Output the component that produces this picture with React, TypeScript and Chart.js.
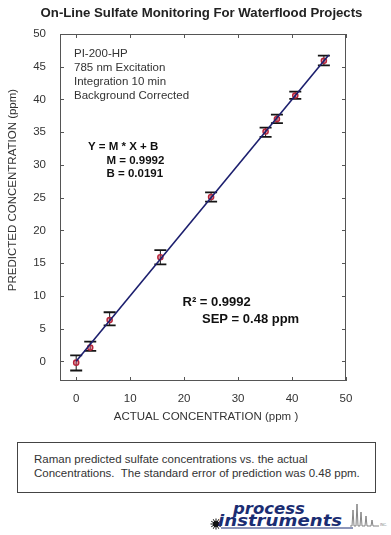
import React, { useEffect, useRef } from "react";
import { Chart, registerables } from "chart.js";

Chart.register(...registerables);

// ---- data ----
const actualConc = [0, 2.6, 6.2, 15.6, 25.0, 35.1, 37.2, 40.6, 45.9];
const predictedConc = [-0.2, 2.1, 6.3, 15.9, 25.1, 35.1, 37.0, 40.6, 45.9];
const errLow = [-1.4, 1.6, 5.5, 14.8, 24.4, 34.3, 36.4, 40.1, 45.2];
const errHigh = [0.9, 3.0, 7.5, 17.0, 25.8, 35.7, 37.7, 41.2, 46.7];
const fitX = [0, 46.8];
const fitY = [0.02, 46.78];
const xTickValues = [0, 10, 20, 30, 40, 50];
const yTickValues = [0, 5, 10, 15, 20, 25, 30, 35, 40, 45, 50];

const titleText = "On-Line Sulfate Monitoring For Waterflood Projects";
const xTitle = "ACTUAL CONCENTRATION (ppm )";
const yTitle = "PREDICTED CONCENTRATION (ppm)";
const infoLines = ["PI-200-HP", "785 nm Excitation", "Integration 10 min", "Background Corrected"];
const fitLines = ["Y = M * X + B", "M = 0.9992", "B = 0.0191"];
const statLines = ["R\u00B2 = 0.9992", "SEP = 0.48 ppm"];
const captionLines = [
  "Raman predicted sulfate concentrations vs. the actual",
  "Concentrations.  The standard error of prediction was 0.48 ppm.",
];

const FONT = "'Liberation Sans', Arial, sans-serif";

const overlayPlugin = {
  id: "overlay",
  beforeDatasetsDraw(chart: any) {
    const { ctx } = chart;
    const x = chart.scales.x;
    const y = chart.scales.y;
    ctx.save();
    ctx.strokeStyle = "#151515";
    for (let i = 0; i < actualConc.length; i++) {
      const px = x.getPixelForValue(actualConc[i]);
      const yl = y.getPixelForValue(errLow[i]);
      const yh = y.getPixelForValue(errHigh[i]);
      ctx.lineWidth = 1;
      ctx.beginPath();
      ctx.moveTo(px, yl);
      ctx.lineTo(px, yh);
      ctx.stroke();
      ctx.lineWidth = 1.8;
      ctx.beginPath();
      ctx.moveTo(px - 6, yl);
      ctx.lineTo(px + 6, yl);
      ctx.moveTo(px - 6, yh);
      ctx.lineTo(px + 6, yh);
      ctx.stroke();
    }
    ctx.restore();
  },
  afterDraw(chart: any) {
    const { ctx, chartArea } = chart;
    const { left, right, top, bottom } = chartArea;
    const x = chart.scales.x;
    const y = chart.scales.y;
    ctx.save();
    // frame
    ctx.strokeStyle = "#555";
    ctx.lineWidth = 1;
    ctx.strokeRect(left + 0.5, top + 0.5, right - left - 1, bottom - top - 1);
    // inner ticks
    ctx.beginPath();
    for (const v of xTickValues) {
      const px = Math.round(x.getPixelForValue(v)) + 0.5;
      ctx.moveTo(px, bottom);
      ctx.lineTo(px, bottom - 4);
      ctx.moveTo(px, top);
      ctx.lineTo(px, top + 4);
    }
    for (const v of yTickValues) {
      const py = Math.round(y.getPixelForValue(v)) + 0.5;
      ctx.moveTo(left, py);
      ctx.lineTo(left + 4, py);
      ctx.moveTo(right, py);
      ctx.lineTo(right - 4, py);
    }
    ctx.stroke();

    // title
    ctx.fillStyle = "#222";
    ctx.textAlign = "center";
    ctx.textBaseline = "middle";
    ctx.font = `bold 13.2px ${FONT}`;
    ctx.fillText(titleText, 201.5, 13);

    // axis titles
    ctx.fillStyle = "#333";
    ctx.font = `11.5px ${FONT}`;
    ctx.fillText(xTitle, 206, 417);
    ctx.save();
    ctx.translate(13, 190);
    ctx.rotate(-Math.PI / 2);
    ctx.fillText(yTitle, 0, 0);
    ctx.restore();

    // info text
    ctx.textAlign = "left";
    ctx.font = `11.5px ${FONT}`;
    infoLines.forEach((t, i) => ctx.fillText(t, 74, 54 + i * 14));

    // fit text
    ctx.fillStyle = "#111";
    ctx.font = `bold 11.5px ${FONT}`;
    ctx.fillText(fitLines[0], 88, 147);
    ctx.fillText(fitLines[1], 106.5, 160.5);
    ctx.fillText(fitLines[2], 106.5, 174);

    // stats text
    ctx.font = `bold 13px ${FONT}`;
    ctx.fillText(statLines[0], 182.5, 302);
    ctx.fillText(statLines[1], 202, 319);
    ctx.restore();
  },
};

function ChartCanvas() {
  const ref = useRef<HTMLCanvasElement | null>(null);
  useEffect(() => {
    if (!ref.current) return;
    const chart = new Chart(ref.current, {
      type: "scatter",
      data: {
        datasets: [
          {
            type: "line",
            label: "Fit",
            data: fitX.map((v, i) => ({ x: v, y: fitY[i] })),
            borderColor: "#1c1f6e",
            borderWidth: 1.6,
            pointRadius: 0,
            fill: false,
            order: 0,
          } as any,
          {
            label: "Samples",
            data: actualConc.map((v, i) => ({ x: v, y: predictedConc[i] })),
            borderColor: "#b8243a",
            backgroundColor: "rgba(200,70,90,0.5)",
            borderWidth: 1.4,
            pointRadius: 2.6,
            order: 1,
          },
        ],
      },
      options: {
        responsive: false,
        animation: false,
        events: [],
        layout: { padding: { top: 34, right: 45, left: 0, bottom: 0 } },
        plugins: {
          legend: { display: false },
          tooltip: { enabled: false },
          title: { display: false },
        },
        scales: {
          x: {
            type: "linear",
            min: -3,
            max: 50,
            grid: { display: false },
            border: { display: false },
            ticks: {
              stepSize: 10,
              includeBounds: false,
              padding: 3,
              color: "#333",
              font: { family: FONT, size: 11.5 },
              maxRotation: 0,
            },
            afterFit: (s: any) => {
              s.height = 49;
            },
          },
          y: {
            type: "linear",
            min: -3,
            max: 50,
            grid: { display: false },
            border: { display: false },
            ticks: {
              stepSize: 5,
              includeBounds: false,
              padding: 6,
              color: "#333",
              font: { family: FONT, size: 11.5 },
            },
            afterFit: (s: any) => {
              s.width = 60;
            },
          },
        },
      },
      plugins: [overlayPlugin],
    } as any);
    return () => chart.destroy();
  }, []);
  return (
    <canvas
      ref={ref}
      width={391}
      height={430}
      style={{ position: "absolute", left: 0, top: 0, width: 391, height: 430 }}
    />
  );
}

function Logo() {
  const blue = "#1b2d72";
  const rays = [];
  for (let i = 0; i < 12; i++) {
    const a = (i * Math.PI) / 6;
    rays.push(
      <line
        key={i}
        x1={11 + Math.cos(a) * 2}
        y1={26 + Math.sin(a) * 2}
        x2={11 + Math.cos(a) * 5.5}
        y2={26 + Math.sin(a) * 5.5}
        stroke="#111"
        strokeWidth={1}
      />
    );
  }
  return (
    <div style={{ position: "absolute", left: 205, top: 498, width: 186, height: 37 }}>
      <svg width={186} height={37} style={{ position: "absolute", left: 0, top: 0 }}>
        {rays}
        <circle cx={11} cy={26} r={3} fill="#111" />
        <line x1={16} y1={30} x2={148} y2={30} stroke={blue} strokeWidth={1} />
        <polyline
          points="145,28 147,28 148,12 149,28 151,28 152,6 153,28 155,28 156,14 157,28 160,28 161,18 162,28 166,28 167,22 168,28 174,28"
          fill="none"
          stroke="#777"
          strokeWidth={0.9}
        />
        <text x={175} y={28} fontSize={3.5} fill="#777" fontFamily={FONT}>
          INC.
        </text>
      </svg>
      <div
        style={{
          position: "absolute",
          left: 28,
          top: 3,
          fontFamily: "'DejaVu Sans', sans-serif",
          fontWeight: "bold",
          fontStyle: "italic",
          fontSize: 16.5,
          lineHeight: "16px",
          color: blue,
          whiteSpace: "nowrap",
        }}
      >
        process
      </div>
      <div
        style={{
          position: "absolute",
          left: 13,
          top: 15,
          fontFamily: "'DejaVu Sans', sans-serif",
          fontWeight: "bold",
          fontStyle: "italic",
          fontSize: 16.5,
          lineHeight: "16px",
          color: blue,
          whiteSpace: "nowrap",
          transform: "scaleX(1.1)",
          transformOrigin: "left center",
        }}
      >
        instruments
      </div>
    </div>
  );
}

export default function App() {
  return (
    <div
      style={{
        position: "absolute",
        left: 0,
        top: 0,
        width: 391,
        height: 535,
        background: "#fff",
        overflow: "hidden",
      }}
    >
      <ChartCanvas />
      <div
        style={{
          position: "absolute",
          left: 17,
          top: 442,
          width: 357,
          height: 49,
          border: "1px solid #444",
          boxSizing: "content-box",
          fontFamily: FONT,
          fontSize: 11.5,
          color: "#333",
        }}
      >
        <div style={{ position: "absolute", left: 16, top: 10, lineHeight: "13.7px", whiteSpace: "pre" }}>
          {captionLines.map((l, i) => (
            <div key={i}>{l}</div>
          ))}
        </div>
      </div>
      <Logo />
    </div>
  );
}
